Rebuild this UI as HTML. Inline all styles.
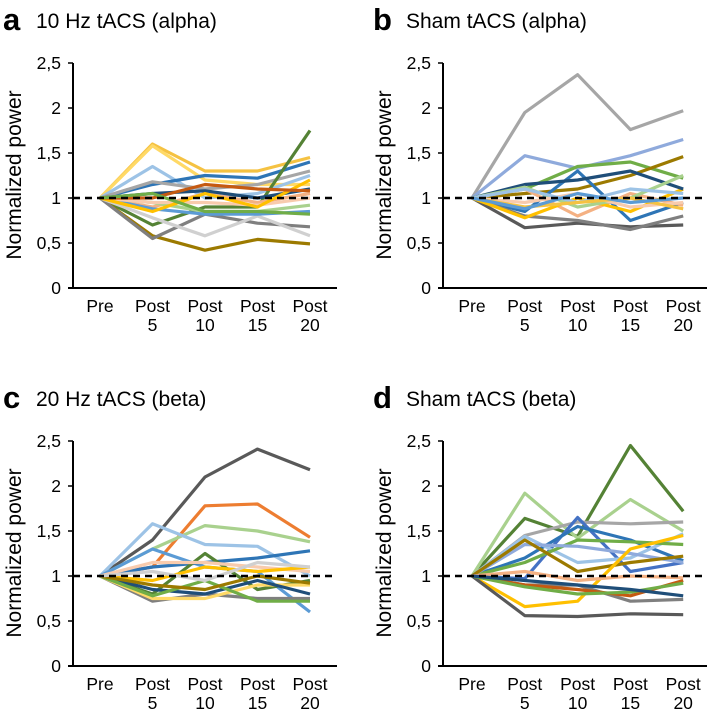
<!DOCTYPE html>
<html><head><meta charset="utf-8"><style>
html,body{margin:0;padding:0;background:#fff}
svg{display:block;font-family:"Liberation Sans",sans-serif}
</style></head><body>
<svg id="chart" width="712" height="713" viewBox="0 0 712 713"></svg>
<script>
const categories=["Pre","Post 5","Post 10","Post 15","Post 20"];
const yTicks=[0,0.5,1,1.5,2,2.5];
const yTickLabels=["0","0,5","1","1,5","2","2,5"];
const titles=["10 Hz tACS (alpha)","Sham tACS (alpha)","20 Hz tACS (beta)","Sham tACS (beta)"];
const letters=["a","b","c","d"];
const palette=["#f5c242","#ffd966","#9dc3e6","#2e75b6","#a6a6a6","#548235","#9c7a00","#7f7f7f","#d0d0d0","#f4b183","#a9d18e","#1f4e79","#5b9bd5","#f8cbad","#ffc000","#c55a11","#70ad47","#8faadc"];
const seriesA=[[1,1.6,1.3,1.3,1.45],[1,1.58,1.2,1.15,1.15],[1,1.35,1,1.05,1.25],[1,1.15,1.25,1.22,1.4],[1,1.18,1.1,1.15,1.3],[1,0.7,0.9,0.9,1.75],[1,0.58,0.42,0.54,0.49],[1,0.55,0.82,0.72,0.68],[1,0.78,0.58,0.8,0.58],[1,0.9,1.05,0.95,1.05],[1,0.95,0.85,0.85,0.92],[1,1.05,1.08,1,1.1],[1,0.88,0.82,0.82,0.85],[1,0.95,0.95,0.92,1],[1,0.85,1.05,0.9,1.2],[1,1,1.15,1.1,1.08],[1,1.05,0.85,0.85,0.82]];
const seriesB=[[1,1.95,2.37,1.76,1.97],[1,1.47,1.33,1.47,1.65],[1,1.1,1.35,1.4,1.22],[1,1.05,1.1,1.25,1.46],[1,0.67,0.72,0.68,0.7],[1,0.85,1.3,0.75,0.95],[1,0.8,0.75,0.65,0.8],[1,1.1,0.8,1.05,0.92],[1,0.78,1,0.85,1.1],[1,1.15,1.2,1.3,1.1],[1,1.12,0.9,1,1.25],[1,0.95,1.05,0.9,0.95],[1,1.1,0.95,1.1,1.05],[1,0.9,0.95,1,0.88],[1,0.88,1.05,0.95,1]];
const colorsB=["#a6a6a6","#8faadc","#70ad47","#9c7a00","#595959","#2e75b6","#7f7f7f","#f4b183","#ffc000","#1f4e79","#a9d18e","#f8cbad","#9dc3e6","#f5c242","#5b9bd5"];
const seriesC=[[1,1.4,2.1,2.41,2.18],[1,1.1,1.78,1.8,1.43],[1,1.3,1.56,1.5,1.38],[1,1.58,1.35,1.33,1],[1,1.3,1.1,1.05,0.6],[1,1.1,1.15,1.2,1.28],[1,0.72,0.8,0.75,0.75],[1,0.8,1.25,0.85,0.95],[1,0.75,0.75,0.9,0.9],[1,0.85,0.8,0.95,0.8],[1,1.15,1.15,1.1,1.05],[1,0.95,1.1,1.05,1.1],[1,0.78,0.95,0.72,0.72],[1,0.9,0.85,1,0.92],[1,1.05,0.95,1.15,1.1]];
const colorsC=["#595959","#ed7d31","#a9d18e","#9dc3e6","#5b9bd5","#2e75b6","#7f7f7f","#548235","#ffd966","#1f4e79","#f8cbad","#ffc000","#70ad47","#9c7a00","#d0d0d0"];
const seriesD=[[1,1.64,1.44,2.45,1.72],[1,1.92,1.42,1.85,1.5],[1,1.45,1.6,1.58,1.6],[1,0.97,1.65,1.05,1.15],[1,1.2,1.55,1.4,1.17],[1,1.44,1.15,1.2,1.47],[1,1.15,1.4,1.38,1.35],[1,1.35,1.33,1.25,1.15],[1,1.4,1.05,1.15,1.22],[1,0.66,0.72,1.3,1.45],[1,0.56,0.55,0.58,0.57],[1,0.9,0.9,0.72,0.74],[1,0.9,0.85,0.78,0.95],[1,1.05,0.95,1,0.98],[1,0.88,0.8,0.82,0.92],[1,0.95,0.9,0.85,0.78]];
const colorsD=["#548235","#a9d18e","#a6a6a6","#4472c4","#2e75b6","#9dc3e6","#70ad47","#8faadc","#9c7a00","#ffc000","#595959","#7f7f7f","#c55a11","#f4b183","#70ad47","#1f4e79"];
const allSeries=[seriesA,seriesB,seriesC,seriesD];
const allColors=[palette,colorsB,colorsC,colorsD];
const layout=[{ax:73,x0:100,dx:52.5,base:288},{ax:443,x0:472,dx:52.8,base:288},{ax:73,x0:100,dx:52.5,base:666},{ax:443,x0:472,dx:52.8,base:666}];
const NS="http://www.w3.org/2000/svg";
const svg=document.getElementById('chart');
function mk(tag,attrs,parent){const e=document.createElementNS(NS,tag);for(const k in attrs)e.setAttribute(k,attrs[k]);(parent||svg).appendChild(e);return e;}
layout.forEach((L,p)=>{
  const g=mk('g',{});
  
  
  const yS=v=>L.base-v*90;
  const xS=i=>L.x0+i*L.dx;
  const top=L.base-225;
  const lt=mk('text',{x:L.ax-70,y:top-33,'font-size':31,'font-weight':'bold'},g);lt.textContent=letters[p];
  
  
  const tt=mk('text',{x:L.ax-37,y:top-35,'font-size':21},g);tt.textContent=titles[p];
  
  
  const yl=mk('text',{transform:`translate(${L.ax-52},${top+112}) rotate(-90)`,'text-anchor':'middle','font-size':21},g);yl.textContent="Normalized power";
  
  
  yTicks.forEach((v,i)=>{
    const t=mk('text',{x:L.ax-12,y:yS(v)+6,'text-anchor':'end','font-size':17.5},g);t.textContent=yTickLabels[i];
    
    
    mk('line',{x1:L.ax-5,x2:L.ax,y1:yS(v),y2:yS(v),stroke:'#000','stroke-width':1.5},g);
  });
  categories.forEach((c,i)=>{
    const parts=c.split(' ');
    const t=mk('text',{x:xS(i),y:L.base+24,'text-anchor':'middle','font-size':17.5},g);
    
    
    parts.forEach((s,j)=>{const ts=mk('tspan',{x:xS(i),dy:j?19:0},t);ts.textContent=s;});
  });
  const clr=allColors[p];
  allSeries[p].forEach((s,k)=>{
    const pl=mk('polyline',{points:s.map((v,i)=>xS(i)+','+yS(v)).join(' '),fill:'none',stroke:clr[k%clr.length],'stroke-width':3.2,'stroke-linejoin':'round'},g);
    
    
  });
  const ref=mk('line',{x1:L.ax,x2:L.ax+264,y1:yS(1),y2:yS(1),stroke:'#000','stroke-width':2.5,'stroke-dasharray':'7,5'},g);
  
  
  const ya=mk('line',{x1:L.ax,x2:L.ax,y1:top,y2:L.base,stroke:'#000','stroke-width':2},g);
  
  
  const xa=mk('line',{x1:L.ax-5,x2:L.ax+264,y1:L.base,y2:L.base,stroke:'#000','stroke-width':2},g);
  
  
});
</script>
</body></html>
